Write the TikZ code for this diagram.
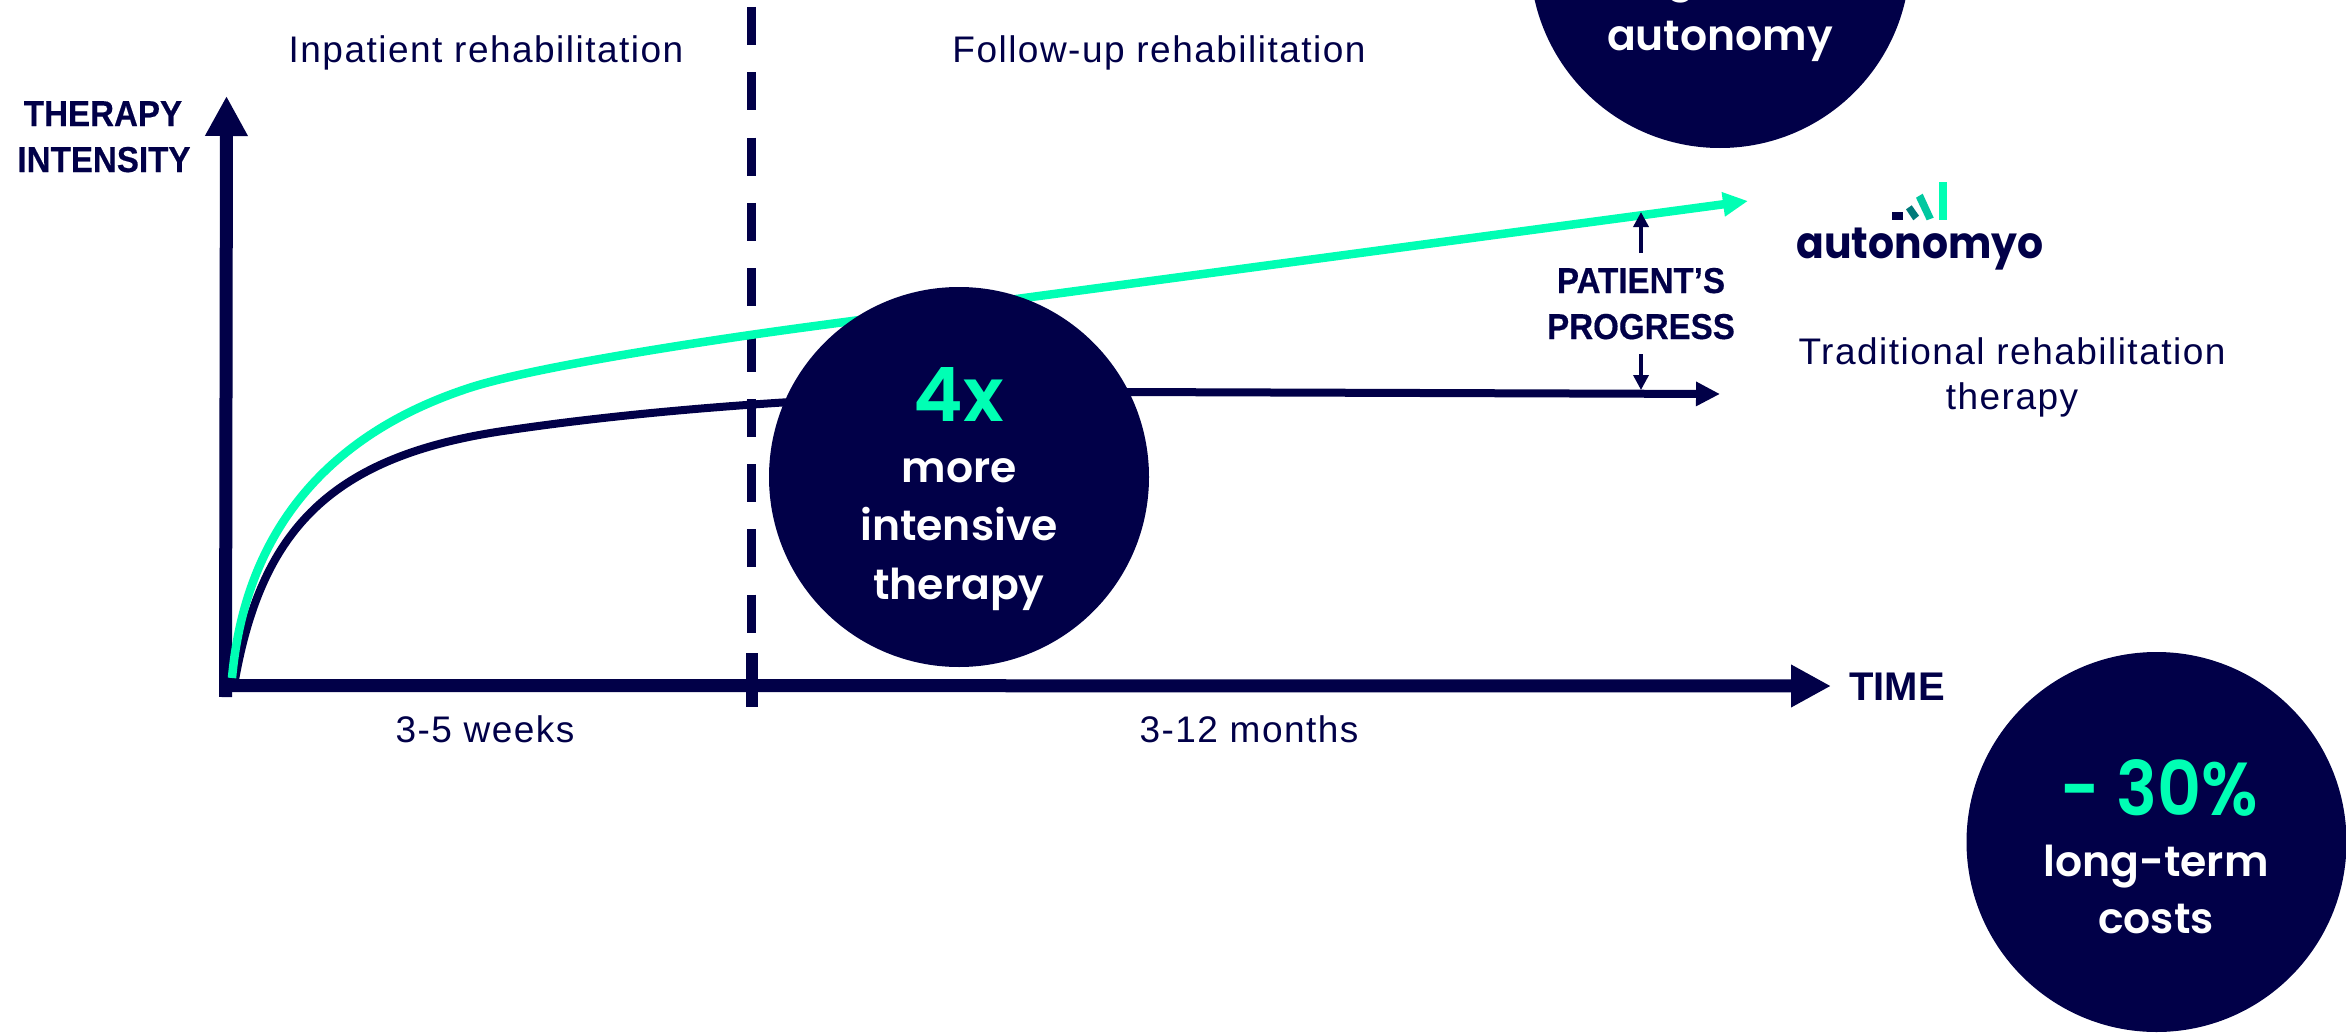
\documentclass[tikz,border=0pt]{standalone}
\usepackage{fontspec}
\usetikzlibrary{arrows.meta}
\setmainfont{Liberation Sans}
\newfontfamily\bodyf{Liberation Sans}[LetterSpace=4]
\newfontfamily\headf{Liberation Sans}[FakeStretch=0.92,FakeBold=0.4]
\newfontfamily\popf{Poppins}[UprightFont=* Medium,BoldFont=* SemiBold]
\newfontfamily\popn{Poppins}[UprightFont=* Medium,BoldFont=* SemiBold,FakeStretch=0.91]
\newfontfamily\popl{Poppins}[UprightFont=* Medium,BoldFont=* Bold,FakeStretch=0.93]
\definecolor{navy}{HTML}{010048}
\definecolor{mint}{HTML}{00FFB4}
\definecolor{tealA}{HTML}{007A7A}
\definecolor{tealB}{HTML}{00C8A0}
\tikzset{
  bodytxt/.style={anchor=base,text=navy,align=center,font=\bodyf\fontsize{37}{45}\selectfont,inner sep=0pt},
  headtxt/.style={anchor=base,text=navy,font=\headf\bfseries\fontsize{36}{46}\selectfont,inner sep=0pt},
  disc/.style={circle,fill=navy,minimum size=380pt,inner sep=0pt},
  bigtxt/.style={anchor=base,text=mint,font=\popf\bfseries\fontsize{75}{80}\selectfont,inner sep=0pt},
  smalltxt/.style={anchor=base,text=white,font=\popf\bfseries\fontsize{42.5}{50}\selectfont,inner sep=0pt},
  axisline/.style={draw=navy,line width=13pt,-{Triangle[length=40pt,width=40pt]}},
  curvemint/.style={draw=mint,line width=8.5pt,-{Triangle[length=25pt,width=23pt]}},
  curvenavy/.style={draw=navy,line width=8pt,-{Triangle[length=24pt,width=23pt]}},
  tinyarrow/.style={draw=navy,line width=3.5pt,-{Triangle[length=15pt,width=15pt]}}
}
\begin{document}
\begin{tikzpicture}[x=1pt,y=-1pt]
\useasboundingbox (0,0) rectangle (2346,1033);
\fill[white] (0,0) rectangle (2346,1033);
% coordinates
\coordinate (yo) at (225.5,697);
\coordinate (yt) at (226.5,96);
\coordinate (xo) at (225,685.5);
\coordinate (xt) at (1831,686);
\coordinate (da) at (751.5,7);
\coordinate (db) at (751.5,633);
\coordinate (dc) at (752,653);
\coordinate (dd) at (752,707);
\coordinate (ma) at (232,678);
\coordinate (mb) at (469,388);
\coordinate (mc) at (800,328);
\coordinate (md) at (1748,201);
\coordinate (na) at (235,680);
\coordinate (nb) at (510,430);
\coordinate (nc) at (1122,392);
\coordinate (nd) at (1720,394);
\coordinate (ua) at (1641,253);
\coordinate (ub) at (1641,212);
\coordinate (va) at (1641,354);
\coordinate (vb) at (1641,390);
% dashed divider
\draw[navy,line width=9pt,dash pattern=on 38pt off 27.3pt] (da) -- (db);
\draw[navy,line width=12pt] (dc) -- (dd);
% axes
\draw[axisline] (yo) -- (yt);
\draw[axisline] (xo) -- (xt);
% curves
\draw[curvenavy] (na) .. controls (262,530) and (330,455) .. (nb)
  .. controls (680,405) and (900,392) .. (nc) -- (nd);
\draw[curvemint] (ma) .. controls (250,480) and (390,414) .. (mb)
  .. controls (530,368) and (690,343) .. (mc) -- (md);
% progress arrows
\draw[tinyarrow] (ua) -- (ub);
\draw[tinyarrow] (va) -- (vb);
% discs
\node[disc] (top) at (1720,-42) {};
\node[disc] (mid) at (959,477) {};
\node[disc] (low) at (2156.5,842) {};
% disc text
\node[smalltxt] (tg) at (1681,-8) {g};
\node[smalltxt] (t1) at (1720,50.7) {autonomy};
\node[bigtxt] (m0) at (959,421) {4x};
\node[smalltxt] (m1) at (959,482) {more};
\node[smalltxt] (m2) at (959,540) {intensive};
\node[smalltxt] (m3) at (959,599) {therapy};
\node[bigtxt,font=\popn\bfseries\fontsize{75}{80}\selectfont] (l0) at (2159,815) {- 30\%};
\node[smalltxt] (l1) at (2156,876) {long-term};
\node[smalltxt] (l2) at (2156,933) {costs};
% labels
\node[bodytxt] (inp) at (486,63) {Inpatient rehabilitation};
\node[bodytxt] (fol) at (1159,63) {Follow-up rehabilitation};
\node[bodytxt] (w35) at (485,742) {3-5 weeks};
\node[bodytxt] (m312) at (1249,742) {3-12 months};
\node[bodytxt] (tra1) at (2012,364) {Traditional rehabilitation};
\node[bodytxt] (tra2) at (2012,409) {therapy};
\node[headtxt] (ti1) at (103,126) {THERAPY};
\node[headtxt] (ti2) at (104,172) {INTENSITY};
\node[headtxt] (pp1) at (1641,293) {PATIENT’S};
\node[headtxt] (pp2) at (1641,339) {PROGRESS};
\node[headtxt,font=\bfseries\fontsize{40}{46}\selectfont] (tim) at (1897,700) {TIME};
% logo
\fill[navy] (1892,212) rectangle (1903,220);
\fill[tealA] (1906,209.3) -- (1911.7,205.3) -- (1919,215.7) -- (1913.3,220.3) -- cycle;
\fill[tealB] (1916,197.7) -- (1922.7,193.7) -- (1933.7,217.7) -- (1926.7,220.3) -- cycle;
\fill[mint] (1939,182) rectangle (1947,220);
\node[anchor=base,text=navy,font=\popl\bfseries\fontsize{44}{50}\selectfont,inner sep=0pt] (logo) at (1920,258) {autonomyo};
\end{tikzpicture}
\end{document}
